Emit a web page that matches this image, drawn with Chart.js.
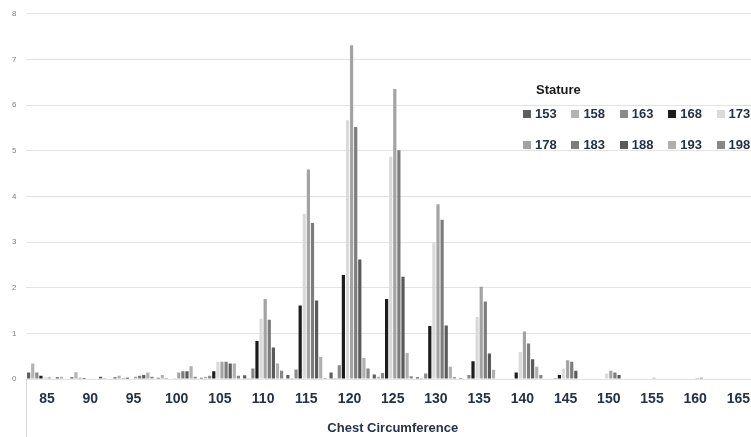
<!DOCTYPE html>
<html>
<head>
<meta charset="utf-8">
<title>Chest Circumference by Stature</title>
<script src="https://cdn.jsdelivr.net/npm/chart.js@4.4.1/dist/chart.umd.min.js"></script>
<style>
    html, body {
        margin: 0;
        padding: 0;
        background: #ffffff;
        overflow: hidden;
    }
    #chartWrap {
        position: absolute;
        left: 0;
        top: 0;
        width: 760px;
        height: 437px;
    }
    #statureLegend {
        position: absolute;
        left: 523px;
        top: 82px;
        font-family: "Liberation Sans", Arial, sans-serif;
        font-weight: bold;
        white-space: nowrap;
    }
    #statureLegend .legend-title {
        font-size: 13px;
        color: #1a1a1a;
        margin-left: 13px;
        height: 22px;
    }
    #statureLegend .legend-row {
        height: 31px;
        line-height: 18px;
    }
    #statureLegend .legend-item {
        display: inline-block;
        width: 48.4px;
        font-size: 13px;
        color: #233246;
    }
    #statureLegend .legend-box {
        display: inline-block;
        width: 8px;
        height: 8px;
        margin-right: 4px;
        vertical-align: 0px;
    }
</style>
</head>
<body>
<div id="chartWrap">
    <canvas id="statureChart"></canvas>
</div>
<div id="statureLegend"></div>

<script>
// 胸围分类（x轴）
const chestCircumference = ['85', '90', '95', '100', '105', '110', '115', '120', '125',
    '130', '135', '140', '145', '150', '155', '160', '165'];

// 身高分组（图例）
const statures = ['153', '158', '163', '168', '173', '178', '183', '188', '193', '198'];

// 各身高组在每个胸围上的数值
const values153 = [0.14, 0.04, 0.04, 0.03, 0.03, 0.08, 0.09, 0.14, 0.10, 0.04, 0.02, 0, 0, 0, 0, 0, 0];
const values158 = [0.34, 0.15, 0.07, 0.09, 0.05, 0.02, 0.02, 0.02, 0.05, 0.02, 0.01, 0, 0, 0, 0, 0, 0];
const values163 = [0.14, 0.03, 0.02, 0.02, 0.07, 0.23, 0.21, 0.30, 0.13, 0.12, 0.09, 0.01, 0.02, 0, 0, 0, 0];
const values168 = [0.07, 0.02, 0.03, 0.01, 0.17, 0.83, 1.61, 2.28, 1.75, 1.16, 0.39, 0.14, 0.09, 0, 0, 0, 0];
const values173 = [0.04, 0, 0.01, 0.02, 0.38, 1.32, 3.62, 5.67, 4.87, 2.99, 1.36, 0.59, 0.23, 0.12, 0, 0, 0];
const values178 = [0.04, 0, 0.05, 0.14, 0.38, 1.75, 4.59, 7.31, 6.35, 3.83, 2.02, 1.04, 0.41, 0.18, 0.03, 0.02, 0];
const values183 = [0.01, 0, 0.07, 0.17, 0.38, 1.30, 3.42, 5.52, 5.01, 3.49, 1.70, 0.78, 0.38, 0.14, 0, 0.03, 0];
const values188 = [0.04, 0.05, 0.09, 0.17, 0.34, 0.69, 1.72, 2.62, 2.24, 1.17, 0.56, 0.43, 0.18, 0.09, 0, 0, 0];
const values193 = [0.05, 0.02, 0.145, 0.28, 0.34, 0.34, 0.48, 0.46, 0.57, 0.27, 0.20, 0.27, 0, 0, 0, 0, 0];
const values198 = [0, 0, 0.05, 0.05, 0.07, 0.18, 0.02, 0.23, 0.06, 0.04, 0, 0.09, 0, 0, 0, 0, 0];

// y轴刻度
const yTicks = [0, 1, 2, 3, 4, 5, 6, 7, 8];

const seriesValues = [values153, values158, values163, values168, values173,
    values178, values183, values188, values193, values198];

// 灰度配色
const barColors = ['#5e5e5e', '#b3b3b3', '#8a8a8a', '#1c1c1c', '#dadada',
    '#a3a3a3', '#7c7c7c', '#5a5a5a', '#b0b0b0', '#878787'];

const axisTextColor = '#233246';

// 轴线下方左侧竖线
const leftEdgeLine = {
    id: 'leftEdgeLine',
    afterDraw(chart) {
        const ctx = chart.ctx;
        const area = chart.chartArea;
        ctx.save();
        ctx.strokeStyle = '#d9d9d9';
        ctx.lineWidth = 1;
        ctx.beginPath();
        ctx.moveTo(Math.round(area.left) + 0.5, area.bottom);
        ctx.lineTo(Math.round(area.left) + 0.5, chart.height);
        ctx.stroke();
        ctx.restore();
    }
};

function buildLegend() {
    const legend = document.getElementById('statureLegend');
    let html = '<div class="legend-title">Stature</div>';
    for (let row = 0; row < 2; row++) {
        html += '<div class="legend-row">';
        for (let i = row * 5; i < row * 5 + 5; i++) {
            html += '<span class="legend-item"><span class="legend-box" style="background:' +
                barColors[i] + '"></span>' + statures[i] + '</span>';
        }
        html += '</div>';
    }
    legend.innerHTML = html;
}

function initStatureChart() {
    const ctx = document.getElementById('statureChart').getContext('2d');

    const datasets = statures.map(function(label, i) {
        return {
            label: label,
            data: seriesValues[i],
            backgroundColor: barColors[i],
            borderWidth: 0,
            barPercentage: 0.78,
            categoryPercentage: 0.95
        };
    });

    new Chart(ctx, {
        type: 'bar',
        data: {
            labels: chestCircumference,
            datasets: datasets
        },
        options: {
            responsive: true,
            maintainAspectRatio: false,
            animation: false,
            layout: {
                padding: { left: 0, right: 0, top: 11, bottom: 0 }
            },
            scales: {
                x: {
                    grid: { display: false },
                    border: { display: false },
                    ticks: {
                        color: axisTextColor,
                        padding: 4,
                        font: { family: '"Liberation Sans", Arial, sans-serif', size: 14, weight: 'bold' }
                    },
                    title: {
                        display: true,
                        text: 'Chest Circumference',
                        color: axisTextColor,
                        padding: 1,
                        font: { family: '"Liberation Sans", Arial, sans-serif', size: 13, weight: 'bold' }
                    },
                    afterFit: function(scale) {
                        scale.height = 58;
                    }
                },
                y: {
                    min: 0,
                    max: 8,
                    grid: {
                        color: '#e3e3e3',
                        drawTicks: false
                    },
                    border: { display: false },
                    afterBuildTicks: function(scale) {
                        scale.ticks = yTicks.map(function(v) { return { value: v }; });
                    },
                    ticks: {
                        color: '#808080',
                        padding: 9,
                        font: { family: '"Liberation Sans", Arial, sans-serif', size: 8 }
                    },
                    afterFit: function(scale) {
                        scale.width = 25.5;
                    }
                }
            },
            plugins: {
                legend: { display: false },
                tooltip: { enabled: false }
            }
        },
        plugins: [leftEdgeLine]
    });
}

document.addEventListener('DOMContentLoaded', function() {
    buildLegend();
    initStatureChart();
});
</script>
</body>
</html>
